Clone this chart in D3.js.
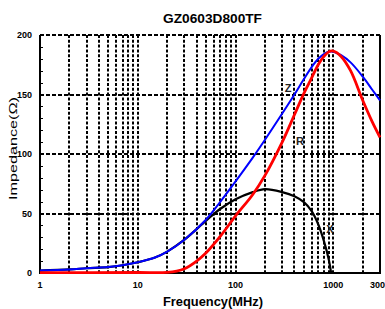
<!DOCTYPE html>
<html><head><meta charset="utf-8">
<script src="https://cdn.jsdelivr.net/npm/d3@7"></script>
<style>body{margin:0;background:#fff}svg{display:block}</style>
</head><body>
<script>
const freqZ = [1,2,3,5,7,10,15,20,30,50,70,100,150,200,300,400,500,600,700,800,900,1000,1200,1500,2000,2500,3000];
const valZ  = [2,3,4,5,6.5,9,13,18,28,45,60,77,97,112,134,150,163,173,180,184,186,186,183,177,165,154,145];
const freqR = [1,10,20,25,30,40,50,70,100,150,200,300,400,500,600,700,800,900,1000,1200,1500,2000,2500,3000];
const valR  = [0.3,0.4,0.5,1.5,3.5,10,17,31,48,66,82,110,133,151,164,175,182,186,186.5,182,170,145,127,114];
const freqX = [1,2,3,5,7,10,15,20,30,50,70,100,150,200,300,400,500,600,700,800,900,950];
const valX  = [2,3,4,5,6.5,9,13,18,28,44,54,62,68,70.5,68,64.5,59.5,52,41,27,11,0];
const xTickVals = [1,10,100,1000,3000];
const xGridVals = [2,3,4,5,6,7,8,9,10,20,30,40,50,60,70,80,90,100,200,300,400,500,600,700,800,900,1000,2000];
const yTickVals = [0,50,100,150,200];
const yGridVals = [50,100,150,200];
const yMinorVals = [10,20,30,40,60,70,80,90,110,120,130,140,160,170,180,190];

const W=385,H=309, L=40, R=380, T=35, B=273;
const svg=d3.select("body").append("svg").attr("width",W).attr("height",H);
const x=d3.scaleLog().domain([1,3000]).range([L,R]);
const y=d3.scaleLinear().domain([0,200]).range([B,T]);
const font="Liberation Sans, Arial, sans-serif";

// grid
const g=svg.append("g").attr("stroke","#000").attr("stroke-width",2).attr("stroke-dasharray","3,1.8");
g.selectAll(".vg").data(xGridVals).join("line").attr("x1",d=>Math.round(x(d))).attr("x2",d=>Math.round(x(d))).attr("y1",T).attr("y2",B);
g.selectAll(".hg").data(yGridVals).join("line").attr("stroke-dasharray","4,2").attr("x1",L).attr("x2",R).attr("y1",d=>Math.round(y(d))).attr("y2",d=>Math.round(y(d)));

// minor ticks
svg.append("g").selectAll("line").data(yMinorVals).join("line")
 .attr("x1",L).attr("x2",L+3).attr("y1",d=>Math.round(y(d))+0.5).attr("y2",d=>Math.round(y(d))+0.5).attr("stroke","#000").attr("stroke-width",1);

// frame solid left, bottom, right
svg.append("path").attr("d",`M${L},${T}V${B}H${R}V${T}`).attr("fill","none").attr("stroke","#000").attr("stroke-width",2);

// curves
const line=(fs,vs)=>d3.line().x((d,i)=>x(fs[i])).y(d=>y(d)).curve(d3.curveCatmullRom.alpha(0.5))(vs);
svg.append("path").attr("d",line(freqX,valX)).attr("fill","none").attr("stroke","#000").attr("stroke-width",2.2);
svg.append("path").attr("d",line(freqZ,valZ)).attr("fill","none").attr("stroke","#0000ff").attr("stroke-width",2);
svg.append("path").attr("d",line(freqR,valR)).attr("fill","none").attr("stroke","#ff0000").attr("stroke-width",2.8);

// tick labels
svg.append("g").selectAll("text").data(xTickVals).join("text")
 .attr("x",d=>x(d)).attr("y",B+15).attr("text-anchor","middle")
 .attr("font-family",font).attr("font-weight","bold").attr("font-size",9).text(d=>d);
svg.append("g").selectAll("text").data(yTickVals).join("text")
 .attr("x",L-8).attr("y",d=>y(d)+3).attr("text-anchor","end")
 .attr("font-family",font).attr("font-weight","bold").attr("font-size",9).text(d=>d);

// titles
svg.append("text").attr("x",212.5).attr("y",23).attr("text-anchor","middle")
 .attr("font-family",font).attr("font-weight","bold").attr("font-size",12)
 .attr("textLength",99).attr("lengthAdjust","spacingAndGlyphs").text("GZ0603D800TF");
svg.append("text").attr("x",213).attr("y",306).attr("text-anchor","middle")
 .attr("font-family",font).attr("font-weight","bold").attr("font-size",12)
 .attr("textLength",100).attr("lengthAdjust","spacingAndGlyphs").text("Frequency(MHz)");
svg.append("text").attr("transform","translate(17,148.5) rotate(-90)").attr("text-anchor","middle")
 .attr("font-family",font).attr("font-size",11.5)
 .attr("textLength",103).attr("lengthAdjust","spacingAndGlyphs").text("Impedance(Ω)");

// curve labels
const labs=[["Z",288,92],["R",300,145],["X",330,233]];
svg.append("g").selectAll("text").data(labs).join("text")
 .attr("x",d=>d[1]).attr("y",d=>d[2]).attr("text-anchor","middle")
 .attr("font-family",font).attr("font-weight","bold").attr("font-size",11).attr("fill","#222").text(d=>d[0]);
</script>
</body></html>
